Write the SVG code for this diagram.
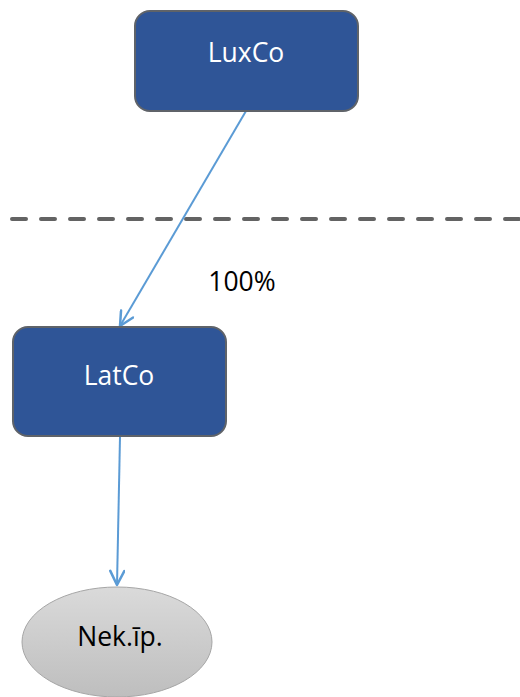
<svg xmlns="http://www.w3.org/2000/svg" width="520" height="697" viewBox="0 0 520 697">
<style>
.box{fill:#2F5597;stroke:#5F6369;stroke-width:2}
.lbl{font-family:"Open Sans","Liberation Sans",sans-serif;font-size:26.5px;text-anchor:middle}
.w{fill:#FFFFFF}
.k{fill:#000000}
.conn{stroke:#5B9BD5;stroke-width:2;fill:none;marker-end:url(#arr)}
</style>
<defs>
<marker id="arr" viewBox="-16 -8 18 16" refX="0" refY="0" markerWidth="18" markerHeight="16" markerUnits="userSpaceOnUse" orient="auto">
<path d="M-14,-7 L0,0 L-14,7" fill="none" stroke="#5B9BD5" stroke-width="2.5" stroke-linecap="round" stroke-linejoin="round"/>
</marker>
<linearGradient id="g" x1="0" y1="0" x2="0" y2="1">
<stop offset="0" stop-color="#DADADA"/>
<stop offset="1" stop-color="#BEBEBE"/>
</linearGradient>
</defs>
<line x1="12" y1="219" x2="520" y2="219" stroke="#636363" stroke-width="4" stroke-dasharray="14 15" stroke-linecap="round"/>
<g id="connectors">
<line class="conn" x1="246" y1="111" x2="120" y2="326"/>
<line class="conn" x1="120" y1="437" x2="117" y2="585"/>
</g>
<text class="lbl k" x="242" y="291">100%</text>
<g id="luxco">
<rect class="box" x="135" y="11" width="223" height="100" rx="15"/>
<text class="lbl w" x="246" y="62">LuxCo</text>
</g>
<g id="latco">
<rect class="box" x="13" y="327" width="213" height="109" rx="15"/>
<text class="lbl w" x="119" y="385">LatCo</text>
</g>
<g id="nekip">
<ellipse cx="117" cy="642" rx="95" ry="55" fill="url(#g)" stroke="#A6A6A6" stroke-width="1"/>
<text class="lbl k" x="120" y="646">Nek.īp.</text>
</g>
</svg>
